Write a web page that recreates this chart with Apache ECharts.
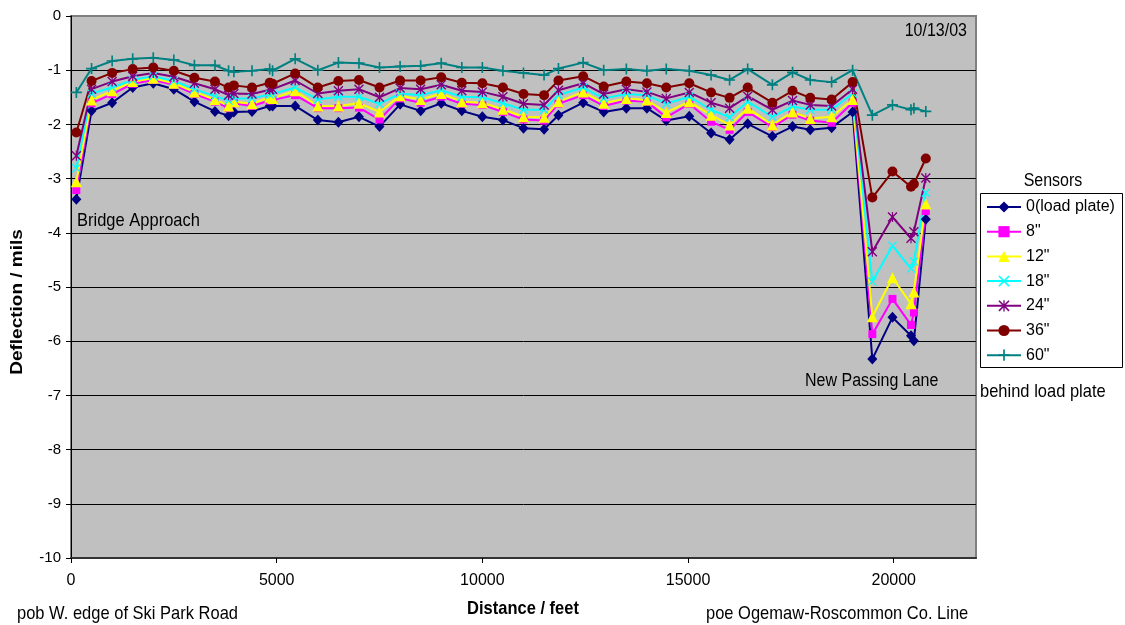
<!DOCTYPE html>
<html>
<head>
<meta charset="utf-8">
<script src="https://cdn.jsdelivr.net/npm/echarts@6/dist/echarts.min.js"></script>
<style>
  html, body { margin: 0; padding: 0; background: #ffffff; }
  #chart { width: 1125px; height: 625px; }
</style>
</head>
<body>
<div id="chart"></div>
<script>
// Station of each drop (feet from the start point)
const distanceFt = [
  130, 500, 1000, 1500, 2000, 2500, 3000, 3500, 3830, 3960,
  4400, 4830, 4900, 5450, 6000, 6500, 7000, 7500, 8000, 8500,
  9000, 9500, 10000, 10500, 11000, 11500, 11850, 12450, 12950, 13500,
  14000, 14470, 15030, 15560, 16010, 16450, 17050, 17540, 17970, 18490,
  19000, 19480, 19970, 20420, 20490, 20780
];

const sensorNames = ['0(load plate)', '8"', '12"', '18"', '24"', '36"', '60"'];

// Deflection in mils for each sensor
const sensor0 = [
  -3.38, -1.75, -1.60, -1.32, -1.24, -1.35, -1.58, -1.76, -1.84, -1.77,
  -1.76, -1.66, -1.66, -1.66, -1.92, -1.96, -1.86, -2.04, -1.63, -1.75,
  -1.61, -1.75, -1.86, -1.92, -2.07, -2.09, -1.83, -1.60, -1.77, -1.70,
  -1.70, -1.93, -1.85, -2.16, -2.28, -1.99, -2.22, -2.04, -2.10, -2.06,
  -1.77, -6.33, -5.56, -5.90, -5.99, -3.75
];
const sensor8 = [
  -3.21, -1.61, -1.44, -1.25, -1.18, -1.27, -1.44, -1.58, -1.70, -1.61,
  -1.66, -1.56, -1.55, -1.46, -1.70, -1.70, -1.69, -1.91, -1.52, -1.60,
  -1.49, -1.62, -1.64, -1.77, -1.91, -1.93, -1.62, -1.46, -1.66, -1.56,
  -1.58, -1.87, -1.62, -1.95, -2.10, -1.77, -2.05, -1.82, -1.93, -1.97,
  -1.60, -5.87, -5.22, -5.70, -5.47, -3.60
];
const sensor12 = [
  -3.06, -1.55, -1.38, -1.21, -1.15, -1.24, -1.40, -1.54, -1.66, -1.58,
  -1.62, -1.50, -1.52, -1.38, -1.66, -1.66, -1.61, -1.77, -1.47, -1.54,
  -1.43, -1.58, -1.60, -1.72, -1.86, -1.87, -1.58, -1.40, -1.61, -1.52,
  -1.55, -1.78, -1.58, -1.83, -2.01, -1.70, -2.01, -1.77, -1.89, -1.86,
  -1.54, -5.55, -4.83, -5.31, -5.09, -3.47
];
const sensor18 = [
  -2.81, -1.43, -1.32, -1.18, -1.11, -1.20, -1.35, -1.48, -1.56, -1.52,
  -1.52, -1.45, -1.44, -1.32, -1.54, -1.49, -1.49, -1.62, -1.43, -1.46,
  -1.37, -1.49, -1.50, -1.61, -1.73, -1.73, -1.46, -1.32, -1.52, -1.44,
  -1.46, -1.62, -1.49, -1.73, -1.87, -1.58, -1.86, -1.67, -1.73, -1.73,
  -1.43, -4.90, -4.24, -4.66, -4.53, -3.26
];
const sensor24 = [
  -2.58, -1.35, -1.21, -1.11, -1.05, -1.12, -1.24, -1.35, -1.46, -1.43,
  -1.44, -1.36, -1.35, -1.19, -1.43, -1.38, -1.35, -1.50, -1.33, -1.35,
  -1.27, -1.38, -1.40, -1.49, -1.62, -1.64, -1.37, -1.24, -1.44, -1.35,
  -1.40, -1.52, -1.41, -1.60, -1.70, -1.48, -1.73, -1.56, -1.64, -1.66,
  -1.35, -4.35, -3.71, -4.10, -3.98, -2.99
];
const sensor36 = [
  -2.15, -1.20, -1.05, -0.98, -0.95, -1.01, -1.14, -1.21, -1.32, -1.28,
  -1.32, -1.23, -1.25, -1.06, -1.32, -1.20, -1.18, -1.32, -1.19, -1.19,
  -1.13, -1.23, -1.24, -1.32, -1.44, -1.46, -1.19, -1.11, -1.30, -1.21,
  -1.24, -1.32, -1.24, -1.41, -1.51, -1.32, -1.60, -1.38, -1.51, -1.54,
  -1.22, -3.35, -2.87, -3.15, -3.10, -2.63
];
const sensor60 = [
  -1.41, -0.97, -0.83, -0.79, -0.77, -0.81, -0.91, -0.91, -1.01, -1.03,
  -1.01, -0.98, -1.01, -0.79, -1.00, -0.86, -0.87, -0.95, -0.93, -0.92,
  -0.87, -0.95, -0.95, -1.01, -1.05, -1.09, -0.97, -0.86, -1.00, -0.98,
  -1.01, -0.98, -1.01, -1.09, -1.18, -0.98, -1.27, -1.04, -1.18, -1.22,
  -1.00, -1.83, -1.64, -1.73, -1.70, -1.76
];

const xTickValues = [0, 5000, 10000, 15000, 20000];

const FONT = '"Liberation Sans", Arial, sans-serif';
// Free text is drawn slightly taller than wide, like the rest of the sheet
const TALL = 1.15;

// Marker shapes in the style of classic spreadsheet charts
const PLUS = 'path://M4.25,0h1.5v4.25h4.25v1.5h-4.25v4.25h-1.5v-4.25h-4.25v-1.5h4.25z';
const CROSS = 'path://M0,1L1,0L10,9L9,10ZM9,0L10,1L1,10L0,9Z';
const STAR = 'path://M0,1L1,0L10,9L9,10ZM9,0L10,1L1,10L0,9ZM4.4,0h1.2v10h-1.2Z';

const seriesStyles = [
  { values: sensor0,  color: '#000080', symbol: 'diamond',  size: [10, 11] },
  { values: sensor8,  color: '#FF00FF', symbol: 'rect',     size: 8 },
  { values: sensor12, color: '#FFFF00', symbol: 'triangle', size: 11 },
  { values: sensor18, color: '#00FFFF', symbol: CROSS,      size: 9 },
  { values: sensor24, color: '#800080', symbol: STAR,       size: 10 },
  { values: sensor36, color: '#800000', symbol: 'circle',   size: 10 },
  { values: sensor60, color: '#008080', symbol: PLUS,       size: 11 }
];

const series = seriesStyles.map((s, k) => ({
  name: sensorNames[k],
  type: 'line',
  data: distanceFt.map((d, i) => [d, s.values[i]]),
  symbol: s.symbol,
  symbolSize: s.size,
  showAllSymbol: true,
  lineStyle: { color: s.color, width: 2 },
  itemStyle: { color: s.color },
  emphasis: { disabled: true },
  animation: false
}));

function label(text, x, y, opts) {
  const o = opts || {};
  return {
    type: 'text', x: x, y: y, z: 10,
    rotation: o.rotation || 0,
    scaleX: o.rotation ? TALL : 1,
    scaleY: o.rotation ? 1 : TALL,
    style: {
      text: text,
      font: (o.bold ? 'bold ' : '') + (o.size || 16.5) + 'px ' + FONT,
      fill: '#000',
      align: o.align || 'left',
      verticalAlign: 'middle'
    }
  };
}

const chart = echarts.init(document.getElementById('chart'), null, { renderer: 'canvas' });

chart.setOption({
  animation: false,
  backgroundColor: '#ffffff',
  textStyle: { fontFamily: FONT },
  grid: {
    left: 71, right: 149, top: 16, bottom: 67,
    show: true,
    backgroundColor: '#C0C0C0',
    borderColor: '#808080',
    borderWidth: 2
  },
  xAxis: {
    type: 'value',
    min: 0, max: 22000, interval: 5000,
    axisLine: { show: true, onZero: false, lineStyle: { color: '#333333', width: 2 } },
    axisTick: { show: true, length: 5, customValues: xTickValues, lineStyle: { color: '#000' } },
    axisLabel: {
      customValues: xTickValues,
      formatter: (v) => String(v),
      margin: 15, fontSize: 16, color: '#000', fontFamily: FONT
    },
    splitLine: { show: false }
  },
  yAxis: {
    type: 'value',
    min: -10, max: 0, interval: 1,
    axisLine: { show: true, onZero: false, lineStyle: { color: '#000', width: 1 } },
    axisTick: { show: true, length: 5, lineStyle: { color: '#000' } },
    axisLabel: { margin: 10, fontSize: 15, color: '#000', fontFamily: FONT },
    splitLine: { show: true, showMaxLine: false, lineStyle: { color: '#000', width: 1 } }
  },
  legend: {
    orient: 'vertical',
    left: 986, top: 199,
    padding: 0,
    itemWidth: 34, itemHeight: 14, itemGap: 8.7,
    textStyle: { fontSize: 16, color: '#000', fontFamily: FONT },
    data: sensorNames,
    selectedMode: false
  },
  graphic: [
    { type: 'rect', shape: { x: 980.5, y: 193.5, width: 142, height: 174 },
      style: { fill: 'none', stroke: '#000', lineWidth: 1 }, z: 0 },
    label('Sensors', 1053, 181, { size: 16, align: 'center' }),
    label('Deflection / mils', 17, 302, { size: 16.5, bold: true, align: 'center', rotation: Math.PI / 2 }),
    label('Distance / feet', 523, 609, { size: 16.5, bold: true, align: 'center' }),
    label('pob W. edge of Ski Park Road', 17, 614),
    label('poe Ogemaw-Roscommon Co. Line', 706, 614),
    label('10/13/03', 967, 31, { size: 16, align: 'right' }),
    label('Bridge Approach', 77, 221),
    label('New Passing Lane', 805, 381, { size: 16 }),
    label('behind load plate', 980, 392)
  ],
  series: series
});
</script>
</body>
</html>
